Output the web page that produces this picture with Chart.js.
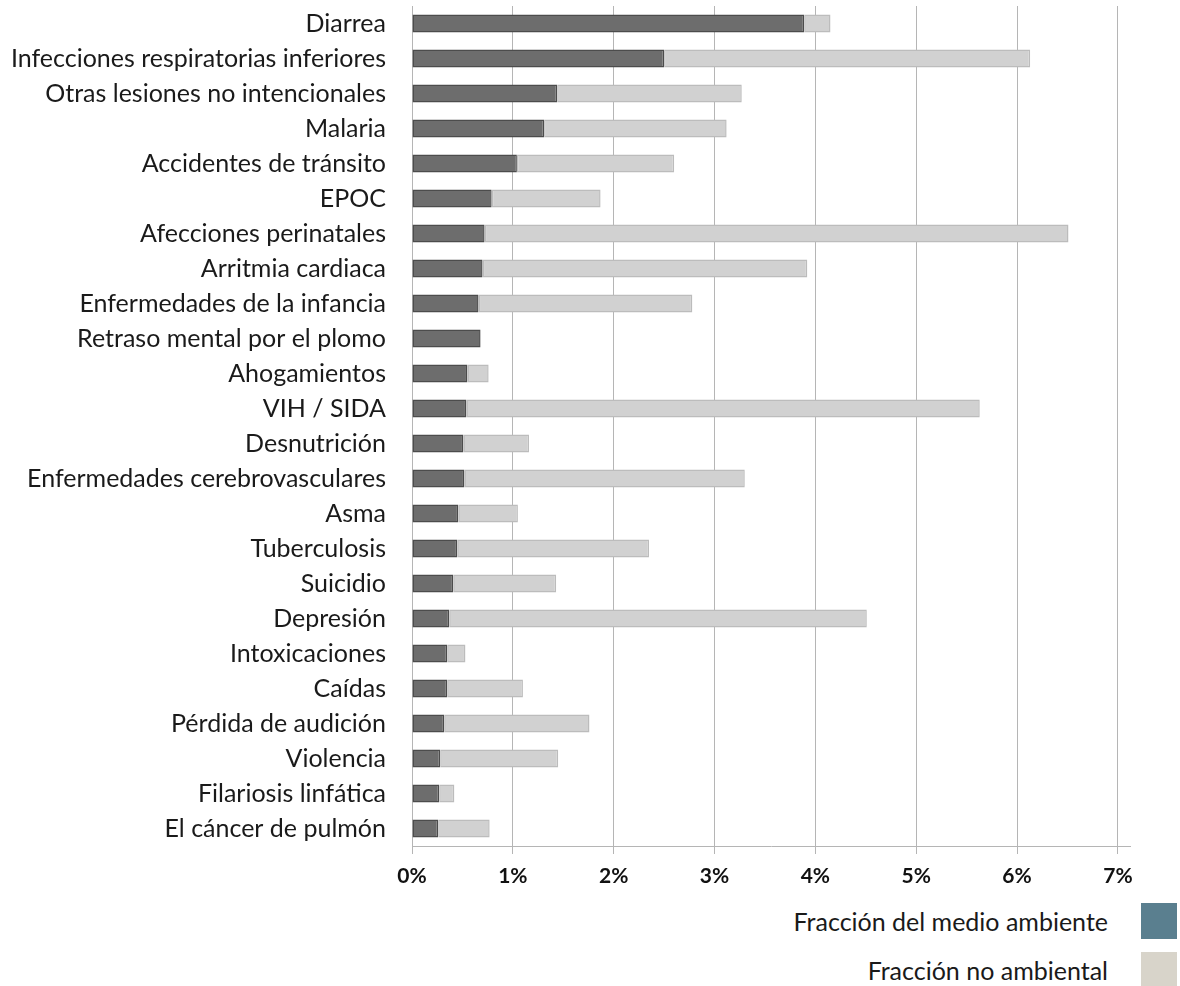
<!DOCTYPE html>
<html lang="es">
<head>
<meta charset="utf-8">
<title>Fracción de enfermedades atribuible al medio ambiente</title>
<script src="https://cdn.jsdelivr.net/npm/chart.js@4.4.1/dist/chart.umd.min.js"></script>
<style>
  html, body { margin: 0; padding: 0; background: #fff; }
  #wrap { position: relative; width: 1180px; height: 986px; overflow: hidden; }
  #chartBox { position: absolute; left: 0; top: 0; width: 1180px; height: 895px; }
  .legend-row {
    position: absolute; right: 0; height: 36px;
    display: flex; align-items: center; justify-content: flex-end;
    font-family: Lato, "Open Sans", sans-serif; font-size: 25px; color: #1a1a1a;
  }
  .legend-row .sw { width: 36px; height: 36px; margin-left: 33px; margin-right: 3px; }
</style>
</head>
<body>
<div id="wrap">
  <div id="chartBox"><canvas id="chart"></canvas></div>
  <div class="legend-row" style="top:903px"><span>Fracción del medio ambiente</span><span class="sw" style="background:#5a7f8f"></span></div>
  <div class="legend-row" style="top:952px"><span>Fracción no ambiental</span><span class="sw" style="background:#d8d4ca"></span></div>
</div>
<script>
const categories = [
  "Diarrea",
  "Infecciones respiratorias inferiores",
  "Otras lesiones no intencionales",
  "Malaria",
  "Accidentes de tránsito",
  "EPOC",
  "Afecciones perinatales",
  "Arritmia cardiaca",
  "Enfermedades de la infancia",
  "Retraso mental por el plomo",
  "Ahogamientos",
  "VIH / SIDA",
  "Desnutrición",
  "Enfermedades cerebrovasculares",
  "Asma",
  "Tuberculosis",
  "Suicidio",
  "Depresión",
  "Intoxicaciones",
  "Caídas",
  "Pérdida de audición",
  "Violencia",
  "Filariosis linfática",
  "El cáncer de pulmón"
]

// % of total burden, environmental part first, the rest stacked after it
const environmental = [
  3.89, 2.50, 1.44, 1.31, 1.04, 0.79, 0.72, 0.70, 0.66, 0.68, 0.55, 0.54,
  0.51, 0.52, 0.46, 0.45, 0.41, 0.37, 0.35, 0.35, 0.32, 0.28, 0.27, 0.26
]
const nonEnvironmental = [
  0.26, 3.63, 1.83, 1.81, 1.56, 1.08, 5.79, 3.22, 2.12, 0.00, 0.21, 5.09,
  0.65, 2.78, 0.59, 1.90, 1.02, 4.14, 0.18, 0.75, 1.44, 1.17, 0.15, 0.51
]

const tickValues = [0, 1, 2, 3, 4, 5, 6, 7]

const canvas = document.getElementById("chart")

new Chart(canvas, {
  type: "bar",
  data: {
    labels: categories,
    datasets: [
      {
        label: "Fracción del medio ambiente",
        data: environmental,
        backgroundColor: "#6d6d6d",
        borderColor: "#4c4c4c",
        borderWidth: 1.5,
        borderSkipped: false
      },
      {
        label: "Fracción no ambiental",
        data: nonEnvironmental,
        backgroundColor: "#d1d1d1",
        borderColor: "#bcbcbc",
        borderWidth: 1.5,
        borderSkipped: false
      }
    ]
  },
  options: {
    indexAxis: "y",
    responsive: true,
    maintainAspectRatio: false,
    animation: false,
    datasets: { bar: { barPercentage: 0.52, categoryPercentage: 1 } },
    layout: { padding: { top: 6, right: 50, left: 0, bottom: 0 } },
    plugins: {
      legend: { display: false },
      tooltip: { enabled: false }
    },
    scales: {
      x: {
        stacked: true,
        min: 0,
        max: 7.12,
        afterBuildTicks: scale => { scale.ticks = tickValues.map(v => ({ value: v })) },
        afterFit: scale => { scale.height = 49 },
        grid: { color: "#b5b5b5", lineWidth: 1, tickLength: 8 },
        border: { color: "#b5b5b5", width: 1 },
        ticks: {
          padding: 10,
          color: "#111",
          font: { family: "Lato, 'Open Sans', sans-serif", size: 21, weight: "bold" },
          callback: v => v + "%"
        }
      },
      y: {
        stacked: true,
        // fixed label column; labels sit inside the rows, no extra top/bottom room
        afterFit: scale => {
          scale.width = 412
          scale.paddingTop = 0
          scale.paddingBottom = 0
        },
        grid: { display: false, drawTicks: false },
        border: { display: false },
        ticks: {
          padding: 26,
          color: "#1a1a1a",
          autoSkip: false,
          font: { family: "Lato, 'Open Sans', sans-serif", size: 25 }
        }
      }
    }
  }
})
</script>
</body>
</html>
